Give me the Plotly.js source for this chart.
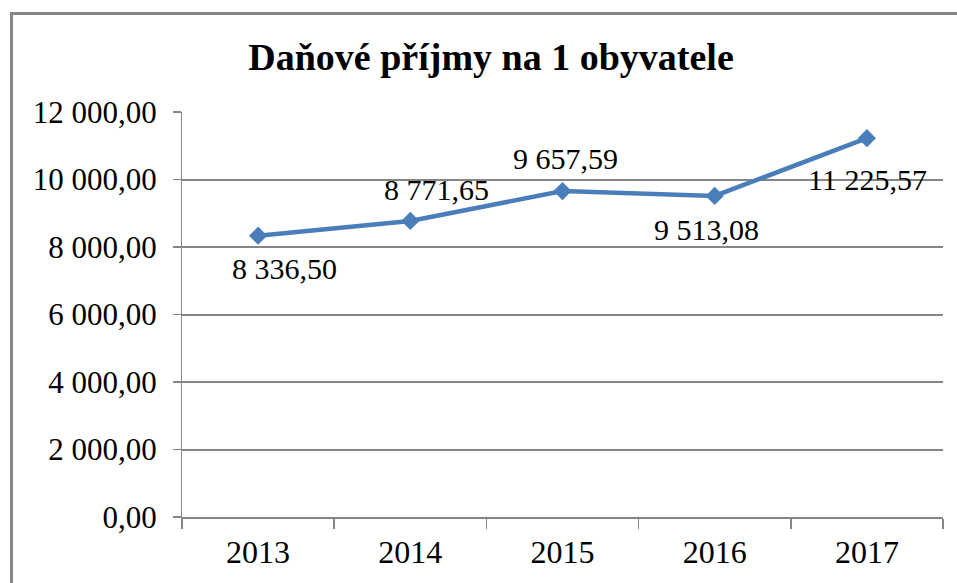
<!DOCTYPE html>
<html>
<head>
<meta charset="utf-8">
<script src="https://cdn.plot.ly/plotly-3.0.1.min.js"></script>
<style>
  html, body { margin: 0; padding: 0; background: #fff; overflow: hidden; }
  #wrap { position: relative; width: 957px; height: 583px; overflow: hidden; }
  #chart { position: absolute; left: 0; top: 0; width: 957px; height: 583px; }
  .edge { position: absolute; background: #868686; pointer-events: none; }
  #edgeLeft { left: 10px; top: 12px; width: 3px; height: 571px; }
  #edgeTop { left: 10px; top: 12px; width: 947px; height: 3px; }
</style>
</head>
<body>
<div id="wrap">
  <div id="chart"></div>
  <div id="edgeLeft" class="edge"></div>
  <div id="edgeTop" class="edge"></div>
</div>
<script>
const chartTitle = 'Daňové příjmy na 1 obyvatele';
const years = ['2013', '2014', '2015', '2016', '2017'];
const values = [8336.50, 8771.65, 9657.59, 9513.08, 11225.57];
const yTickValues = [0, 2000, 4000, 6000, 8000, 10000, 12000];

// label offsets (px) relative to each marker: style only
const labelDx = [26, 26, 3, -8, 1];
const labelDy = [-33, 31, 33, -34, -41];

function fmt(v) {
  const parts = v.toFixed(2).split('.');
  const intPart = parts[0].replace(/\B(?=(\d{3})+(?!\d))/g, ' ');
  return intPart + ',' + parts[1];
}

const font = 'Liberation Serif';
const gray = '#868686';
const blue = '#4A7EBB';

const trace = {
  type: 'scatter',
  mode: 'lines+markers',
  x: years,
  y: values,
  line: { color: blue, width: 4.5 },
  marker: { symbol: 'diamond', size: 14, color: blue },
  hoverinfo: 'skip'
};

// category axis: annotation x given as category index
const annotations = years.map((yr, i) => ({
  x: i, y: values[i], xref: 'x', yref: 'y',
  text: fmt(values[i]),
  showarrow: false,
  xshift: labelDx[i], yshift: labelDy[i],
  xanchor: 'center', yanchor: 'middle',
  font: { family: font, size: 30, color: '#000' }
}));

const layout = {
  width: 957, height: 583,
  paper_bgcolor: '#fff', plot_bgcolor: '#fff',
  margin: { l: 182, r: 14, t: 112, b: 66 },
  separators: ', ',
  showlegend: false,
  title: {
    text: '<b>' + chartTitle + '</b>',
    font: { family: font, size: 38, color: '#000' },
    xref: 'container', x: 491 / 957, xanchor: 'center',
    yref: 'container', y: 1 - 57 / 583, yanchor: 'middle'
  },
  xaxis: {
    type: 'category',
    categoryorder: 'array', categoryarray: years,
    range: [-0.5, years.length - 0.5],
    tickson: 'boundaries',
    tickangle: 0,
    ticks: 'outside', ticklen: 10, tickwidth: 1.5, tickcolor: gray,
    ticklabelstandoff: 6,
    showline: true, linecolor: gray, linewidth: 2,
    showgrid: false, zeroline: false,
    tickfont: { family: font, size: 32, color: '#000' },
    fixedrange: true
  },
  yaxis: {
    range: [0, 12000],
    tickvals: yTickValues,
    tickformat: ',.2f',
    ticks: 'outside', ticklen: 8, tickwidth: 1.5, tickcolor: gray,
    ticklabelstandoff: 10,
    showline: true, linecolor: gray, linewidth: 1,
    showgrid: true, gridcolor: gray, gridwidth: 2,
    zeroline: false,
    tickfont: { family: font, size: 31, color: '#000' },
    fixedrange: true
  },
  annotations: annotations
};

Plotly.newPlot('chart', [trace], layout, { displayModeBar: false, staticPlot: true });
</script>
</body>
</html>
